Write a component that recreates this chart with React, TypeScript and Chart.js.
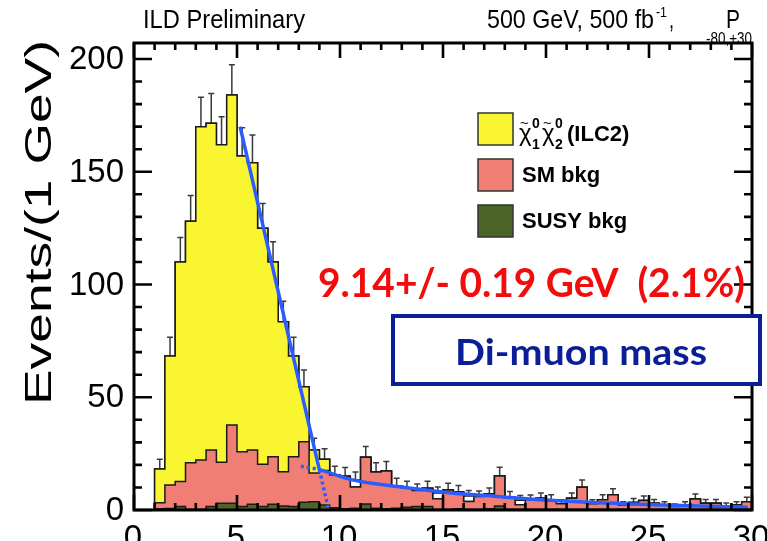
import React, { useEffect, useRef } from "react";
import { Chart, registerables } from "chart.js";
Chart.register(...registerables);

// ---- Histogram binning (GeV) ----
const BIN_LOW = 1.0;
const BIN_WIDTH = 0.5;

// Observed/total counts per bin (outline with error bars)
const totalCounts = [
  18.2, 68.3, 110, 128, 170, 171.5, 162, 184, 157, 154,
  125, 110, 83.5, 68.3, 54.7, 26.6, 22.5, 15.5, 15, 13.3,
  23.4, 16.8, 17.3, 10.8, 9.6, 8.6, 9.6, 7.5, 8.9, 8.1,
  6.2, 6.0, 7.1, 15.1, 5.8, 4.3, 4.5, 5.2, 4.6, 2.8,
  5.2, 10.1, 2.8, 4.6, 6.8, 2.2, 3.3, 4.2, 3.0, 2.2,
  1.5, 2.2, 4.9, 3.0, 3.0, 1.8, 2.2, 3.7,
];
// Upper error bars
const errUp = [
  4.3, 8.3, 10.8, 11.5, 13.0, 13.2, 12.4, 13.4, 12.5, 12.3,
  10.9, 9.0, 9.1, 8.3, 7.4, 5.2, 4.7, 3.9, 3.8, 3.6,
  4.8, 4.1, 4.2, 3.3, 3.1, 2.9, 3.1, 2.7, 3.0, 2.8,
  2.5, 2.4, 2.7, 3.9, 2.4, 2.1, 2.1, 2.3, 2.2, 1.7,
  2.3, 3.2, 1.7, 2.2, 2.6, 1.5, 1.8, 2.0, 1.7, 1.5,
  1.2, 1.5, 2.2, 1.7, 1.7, 1.3, 1.5, 1.9,
];
// Stack components
const susyCounts = [
  0.5, 0.7, 1.5, 0.3, 0.3, 1.5, 3.0, 3.0, 1.5, 2.6,
  1.5, 2.6, 1.8, 1.5, 3.4, 3.7, 2.2, 1.0, 0.5, 0.8,
  2.7, 0.8, 0.5, 0.8, 1.2, 1.5, 1.5, 0.3, 0.3, 0.5,
  0.3, 0.3, 0.5, 1.8, 0.3, 0.3, 0.3, 0.3, 0.3, 0.3,
  0.3, 0.3, 0.3, 0.3, 0.3, 0.3, 0.3, 0.3, 0.3, 0.3,
  0.3, 0.3, 0.3, 0.3, 0.3, 0.3, 0.3, 0.3,
];
const smCounts = [
  2.7, 10.4, 11.1, 20.7, 21.9, 25.1, 18.2, 34.7, 24.3, 24.0,
  18.8, 21.0, 15.2, 22.1, 26.9, 12.7, 15.3, 14.5, 14.5, 9.4,
  20.7, 16.0, 16.8, 10.0, 8.4, 7.1, 8.1, 4.7, 8.6, 7.6,
  3.5, 5.7, 6.6, 13.3, 5.5, 2.0, 4.2, 4.9, 4.3, 2.5,
  4.9, 9.8, 2.5, 4.3, 6.5, 1.9, 3.0, 3.9, 2.7, 1.9,
  1.2, 1.9, 4.6, 2.7, 2.7, 1.5, 1.9, 3.4,
];
const signalCounts = [
  15.0, 57.2, 97.4, 107, 147.8, 144.9, 140.8, 146.3, 131.2, 127.4,
  104.7, 86.4, 66.5, 44.7, 24.4, 10.2, 5.0, 0, 0, 0,
  0, 0, 0, 0, 0, 0, 0, 0, 0, 0,
  0, 0, 0, 0, 0, 0, 0, 0, 0, 0,
  0, 0, 0, 0, 0, 0, 0, 0, 0, 0,
  0, 0, 0, 0, 0, 0, 0, 0,
];

// Fit curves [x, y]
const fitSteep = [[5.15, 170], [9.0, 17.8]];
const fitSteepExt = [[9.0, 17.8], [9.45, 0]];
const fitTail = [[9.0, 18.0], [10.5, 13.6], [12.9, 10.3], [15.3, 7.7], [17.8, 5.9], [20.0, 4.4], [24.0, 2.7], [29.8, 1.2]];
const fitTailExt = [[8.1, 19.4], [9.0, 18.0]];

// Axes
const X_MIN = 0, X_MAX = 30;
const Y_MIN = 0, Y_MAX = 207.1;
const yTickLabels = [0, 50, 100, 150, 200];
const xTickLabels = [0, 5, 10, 15, 20, 25, 30];

const YELLOW = "#f9f531";
const PINK = "#f07e74";
const GREEN = "#4b6428";
const BLUE = "#2a5cff";
const NAVY = "#0b1e98";
const SANS = '"Liberation Sans", Arial, sans-serif';

function stepPoints(vals: number[]) {
  const pts = [{ x: BIN_LOW, y: 0 }];
  vals.forEach((v, i) => pts.push({ x: BIN_LOW + i * BIN_WIDTH, y: v }));
  const end = BIN_LOW + vals.length * BIN_WIDTH;
  pts.push({ x: end, y: vals[vals.length - 1] });
  pts.push({ x: end, y: 0 });
  return pts;
}

function histDs(label: string, vals: number[], color: string, order: number) {
  return {
    label,
    data: stepPoints(vals),
    stepped: true,
    fill: "origin",
    backgroundColor: color,
    borderColor: "#1a1a1a",
    borderWidth: 1.5,
    pointRadius: 0,
    order,
  } as any;
}

function fitDs(pts: number[][], dotted: boolean, order: number) {
  return {
    label: "fit",
    data: pts.map(([x, y]) => ({ x, y })),
    borderColor: BLUE,
    borderWidth: 3.5,
    borderDash: dotted ? [3, 3] : [],
    pointRadius: 0,
    fill: false,
    cubicInterpolationMode: "monotone",
    order,
  } as any;
}

function fitText(ctx: CanvasRenderingContext2D, text: string, x: number, y: number, font: string, width: number) {
  ctx.save();
  ctx.font = font;
  ctx.textAlign = "left";
  ctx.textBaseline = "alphabetic";
  const w = ctx.measureText(text).width;
  ctx.translate(x, y);
  ctx.scale(width / w, 1);
  ctx.fillText(text, 0, 0);
  ctx.restore();
}

const overlay = {
  id: "overlay",
  beforeDatasetsDraw(chart: any) {
    const ctx = chart.ctx as CanvasRenderingContext2D;
    const xs = chart.scales.x, ys = chart.scales.y;
    ctx.save();
    ctx.strokeStyle = "#3a3a3a";
    ctx.lineWidth = 1.5;
    totalCounts.forEach((v, i) => {
      const cx = xs.getPixelForValue(BIN_LOW + (i + 0.5) * BIN_WIDTH);
      const y0 = ys.getPixelForValue(v);
      const y1 = ys.getPixelForValue(v + errUp[i]);
      ctx.beginPath();
      ctx.moveTo(cx, y0);
      ctx.lineTo(cx, y1);
      ctx.moveTo(cx - 3, y1);
      ctx.lineTo(cx + 3, y1);
      ctx.stroke();
    });
    ctx.restore();
  },
  afterDatasetsDraw(chart: any) {
    const ctx = chart.ctx as CanvasRenderingContext2D;
    const xs = chart.scales.x, ys = chart.scales.y;
    const a = chart.chartArea;
    ctx.save();
    // ticks
    ctx.strokeStyle = "#000";
    ctx.lineWidth = 2.6;
    ctx.beginPath();
    for (let v = 0; v <= 200; v += 10) {
      const y = ys.getPixelForValue(v);
      const len = v % 50 === 0 ? 18 : 8;
      ctx.moveTo(a.left, y); ctx.lineTo(a.left + len, y);
      ctx.moveTo(a.right, y); ctx.lineTo(a.right - len, y);
    }
    for (let v = 0; v <= 30; v += 1) {
      const x = xs.getPixelForValue(v);
      const len = v % 5 === 0 ? 15 : 7;
      ctx.moveTo(x, a.bottom); ctx.lineTo(x, a.bottom - len);
      ctx.moveTo(x, a.top); ctx.lineTo(x, a.top + len);
    }
    ctx.stroke();
    // frame
    ctx.lineWidth = 3;
    ctx.strokeRect(a.left, a.top, a.right - a.left, a.bottom - a.top);

    // tick labels
    ctx.fillStyle = "#000";
    ctx.font = `33px ${SANS}`;
    ctx.textAlign = "right";
    ctx.textBaseline = "middle";
    yTickLabels.forEach((v) => ctx.fillText(String(v), 124, ys.getPixelForValue(v) + 1));
    ctx.textAlign = "center";
    ctx.textBaseline = "alphabetic";
    xTickLabels.forEach((v) => ctx.fillText(String(v), xs.getPixelForValue(v) - 1, 548));

    // y title
    ctx.save();
    ctx.translate(51, 405);
    ctx.rotate(-Math.PI / 2);
    fitText(ctx, "Events/(1 GeV)", 0, 0, `37px ${SANS}`, 365);
    ctx.restore();

    // top texts
    fitText(ctx, "ILD Preliminary", 143, 28, `26px ${SANS}`, 162);
    fitText(ctx, "500 GeV, 500 fb", 487, 28, `26px ${SANS}`, 167);
    fitText(ctx, "-1", 656, 17, `15px ${SANS}`, 11);
    fitText(ctx, ",", 669, 28, `26px ${SANS}`, 5);
    fitText(ctx, "P", 726, 28, `26px ${SANS}`, 14);
    fitText(ctx, "-80,+30", 706, 44, `16px ${SANS}`, 46);

    // legend
    const boxes = [
      { y: 113, c: YELLOW },
      { y: 159, c: PINK },
      { y: 205, c: GREEN },
    ];
    boxes.forEach((b) => {
      ctx.fillStyle = b.c;
      ctx.fillRect(478, b.y, 35, 32);
      ctx.strokeStyle = "#333";
      ctx.lineWidth = 1.5;
      ctx.strokeRect(478, b.y, 35, 32);
    });
    ctx.fillStyle = "#000";
    ctx.textAlign = "left";
    ctx.textBaseline = "alphabetic";
    // chi~1^0 chi~2^0
    const chi = (x: number, sub: string) => {
      ctx.font = `24px ${SANS}`;
      ctx.fillText("χ", x, 141);
      ctx.font = `15px ${SANS}`;
      ctx.fillText("~", x + 1, 128);
      ctx.font = `bold 14px ${SANS}`;
      ctx.fillText("0", x + 13, 128);
      ctx.fillText(sub, x + 13, 149);
    };
    chi(519, "1");
    chi(542, "2");
    ctx.font = `bold 22px ${SANS}`;
    ctx.fillText("(ILC2)", 567, 141);
    ctx.fillText("SM bkg", 522, 182);
    ctx.fillText("SUSY bkg", 522, 228);

    // result text
    ctx.fillStyle = "#f20c0c";
    fitText(ctx, "9.14+/- 0.19 GeV  (2.1%)", 318, 297, `bold 40px Lato, ${SANS}`, 427);

    // Di-muon box
    ctx.fillStyle = "#fff";
    ctx.fillRect(393, 316, 367, 68);
    ctx.strokeStyle = NAVY;
    ctx.lineWidth = 4;
    ctx.strokeRect(393, 316, 367, 68);
    ctx.fillStyle = NAVY;
    fitText(ctx, "Di-muon mass", 455, 365, `bold 36px Lato, ${SANS}`, 252);
    ctx.restore();
  },
};

export default function App() {
  const ref = useRef<HTMLCanvasElement>(null);
  useEffect(() => {
    const canvas = ref.current as HTMLCanvasElement;
    const greenTop = susyCounts.slice();
    const pinkTop = smCounts.map((s, i) => s + susyCounts[i]);
    const yellowTop = signalCounts.map((s, i) => s + pinkTop[i]);
    const chart = new Chart(canvas, {
      type: "line",
      data: {
        datasets: [
          histDs("data", totalCounts, "#ffffff", 10),
          histDs("signal", yellowTop, YELLOW, 9),
          histDs("SM bkg", pinkTop, PINK, 8),
          histDs("SUSY bkg", greenTop, GREEN, 7),
          fitDs(fitTailExt, true, 4),
          fitDs(fitSteepExt, true, 3),
          fitDs(fitTail, false, 2),
          fitDs(fitSteep, false, 1),
        ],
      },
      options: {
        responsive: false,
        animation: false,
        events: [],
        layout: { padding: { left: 134, right: 15, top: 43, bottom: 31 } },
        scales: {
          x: { type: "linear", min: X_MIN, max: X_MAX, display: false },
          y: { type: "linear", min: Y_MIN, max: Y_MAX, display: false },
        },
        plugins: { legend: { display: false }, tooltip: { enabled: false } },
      } as any,
      plugins: [overlay],
    });
    return () => chart.destroy();
  }, []);
  return (
    <div style={{ position: "absolute", left: 0, top: 0, width: 767, height: 541, overflow: "hidden", background: "#fff" }}>
      <canvas ref={ref} width={767} height={541} style={{ display: "block" }} />
    </div>
  );
}
